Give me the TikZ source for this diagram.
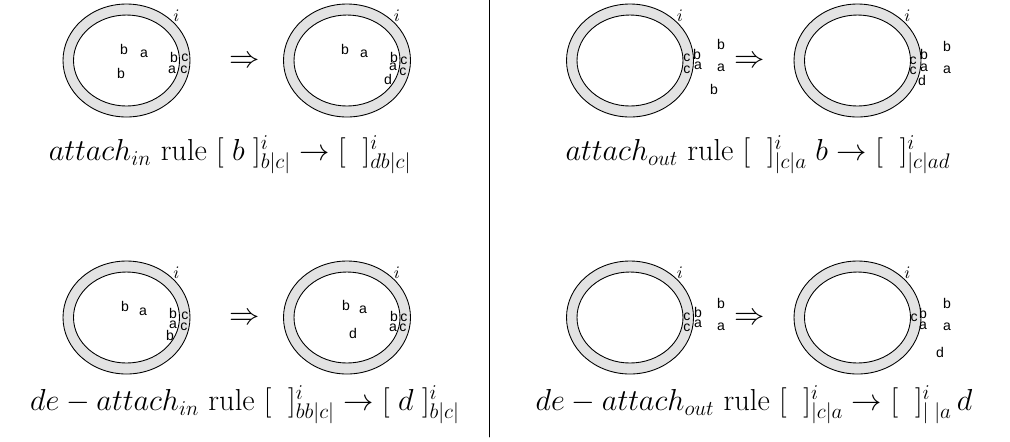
\documentclass[tikz,border=0pt]{standalone}
\usepackage{fontspec}
\newfontfamily\lblfont{Liberation Sans}
\usetikzlibrary{calc}

\tikzset{
  ring/.style={draw,line width=0.5pt,fill=gray!22,even odd rule},
  obj/.style={inner sep=0pt,font=\lblfont\fontsize{8}{9}\selectfont},
  memlbl/.style={inner sep=0pt,font=\normalsize},
  rulearrow/.style={inner sep=0pt,font=\LARGE},
  caption/.style={inner sep=0pt,font=\LARGE}
}

\begin{document}
\begin{tikzpicture}[x=0.02cm,y=-0.02cm,line cap=round,line join=round]
  \useasboundingbox (0,0) rectangle (1010,441);
  % membranes
  \foreach \n/\x/\y in {A1/126.5/60.5,A2/347/60.5,B1/630/60.5,B2/857.5/60.5,
                        C1/126.5/317.5,C2/347/317.5,D1/630/317.5,D2/857.5/317.5} {
    \coordinate (\n) at (\x,\y);
    \draw[ring] (\n) ellipse (63.5 and 56.5) (\n) ellipse (53 and 45.5);
    \node[memlbl] (\n-i) at ($(\n)+(50,-45)$) {$i$};
  }
  % attach_in
  \node[obj] (a1b1) at (124,49) {b};
  \node[obj] (a1a1) at (144,54) {a};
  \node[obj] (a1b2) at (121,73) {b};
  \node[obj] (a1b3) at (174,57) {b};
  \node[obj] (a1c1) at (185,58) {c};
  \node[obj] (a1a2) at (172,70) {a};
  \node[obj] (a1c2) at (184,70) {c};
  \node[rulearrow] (arrA) at (245,62) {$\Rightarrow$};
  \node[obj] (a2b1) at (345,49) {b};
  \node[obj] (a2a1) at (364,54) {a};
  \node[obj] (a2b2) at (394,57) {b};
  \node[obj] (a2c1) at (404,61) {c};
  \node[obj] (a2a2) at (393,67) {a};
  \node[obj] (a2c2) at (403,72) {c};
  \node[obj] (a2d1) at (388,79) {d};
  \node[caption] (capA) at (230,155)
    {$attach_{in}$ rule $[\;b\;]^{i}_{b|c|}\rightarrow[\;\;]^{i}_{db|c|}$};
  % attach_out
  \node[obj] (b1c1) at (687,58) {c};
  \node[obj] (b1c2) at (687,70) {c};
  \node[obj] (b1b1) at (697,54) {b};
  \node[obj] (b1a1) at (698,66) {a};
  \node[obj] (b1b2) at (721,44) {b};
  \node[obj] (b1a2) at (721,68) {a};
  \node[obj] (b1b3) at (714,89) {b};
  \node[rulearrow] (arrB) at (750,62) {$\Rightarrow$};
  \node[obj] (b2c1) at (913,61) {c};
  \node[obj] (b2c2) at (913,71) {c};
  \node[obj] (b2b1) at (924,54) {b};
  \node[obj] (b2a1) at (924,68) {a};
  \node[obj] (b2d1) at (922,80) {d};
  \node[obj] (b2b2) at (947,46) {b};
  \node[obj] (b2a2) at (947,70) {a};
  \node[caption] (capB) at (758,155)
    {$attach_{out}$ rule $[\;\;]^{i}_{|c|a}\;b\rightarrow[\;\;]^{i}_{|c|ad}$};
  % de-attach_in
  \node[obj] (c1b1) at (125,306) {b};
  \node[obj] (c1a1) at (143,312) {a};
  \node[obj] (c1b2) at (173,313) {b};
  \node[obj] (c1c1) at (185,316) {c};
  \node[obj] (c1a2) at (173,325) {a};
  \node[obj] (c1c2) at (184,327) {c};
  \node[obj] (c1b3) at (170,335) {b};
  \node[rulearrow] (arrC) at (245,319) {$\Rightarrow$};
  \node[obj] (c2b1) at (346,305) {b};
  \node[obj] (c2a1) at (363,310) {a};
  \node[obj] (c2d1) at (353,333) {d};
  \node[obj] (c2b2) at (394,316) {b};
  \node[obj] (c2c1) at (404,318) {c};
  \node[obj] (c2a2) at (393,328) {a};
  \node[obj] (c2c2) at (403,328) {c};
  \node[caption] (capC) at (245,405)
    {$de-attach_{in}$ rule $[\;\;]^{i}_{bb|c|}\rightarrow[\;d\;]^{i}_{b|c|}$};
  % de-attach_out
  \node[obj] (d1c1) at (687,317) {c};
  \node[obj] (d1c2) at (687,328) {c};
  \node[obj] (d1b1) at (698,312) {b};
  \node[obj] (d1a1) at (698,324) {a};
  \node[obj] (d1b2) at (721,303) {b};
  \node[obj] (d1a2) at (721,327) {a};
  \node[rulearrow] (arrD) at (750,319) {$\Rightarrow$};
  \node[obj] (d2c1) at (914,318) {c};
  \node[obj] (d2b1) at (923,313) {b};
  \node[obj] (d2a1) at (923,326) {a};
  \node[obj] (d2b2) at (947,303) {b};
  \node[obj] (d2a2) at (947,327) {a};
  \node[obj] (d2d1) at (940,352) {d};
  \node[caption] (capD) at (754,405)
    {$de-attach_{out}$ rule $[\;\;]^{i}_{|c|a}\rightarrow[\;\;]^{i}_{|\;|a}\,d$};
  % divider
  \draw[line width=0.5pt] (489,0) -- (489,437);
\end{tikzpicture}
\end{document}
